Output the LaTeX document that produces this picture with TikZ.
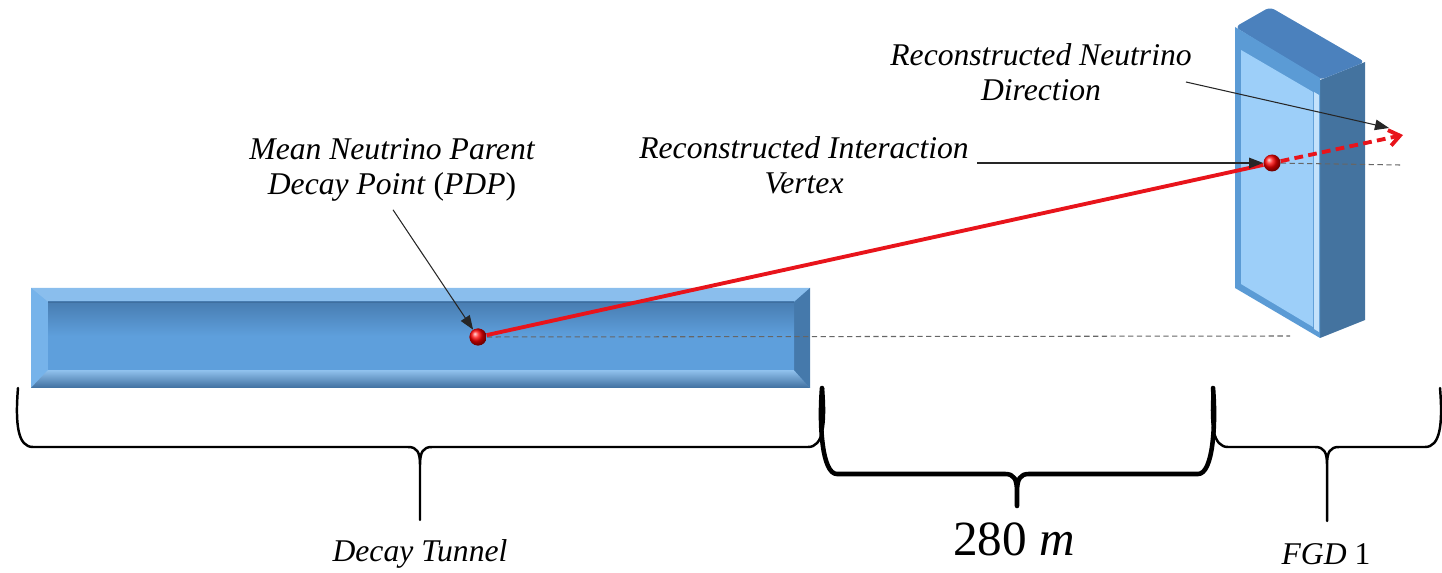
\documentclass[tikz,border=0pt]{standalone}
\usepackage{fontspec}
\setmainfont{Liberation Serif}
\usepackage{tikz}
\usetikzlibrary{positioning,calc,arrows.meta}

\definecolor{tunnelblue}{HTML}{5E9FDC}
\definecolor{bevellight}{HTML}{76B3EA}
\definecolor{beveldark}{HTML}{3F6F9F}
\definecolor{fgdframe}{HTML}{5B9BD5}
\definecolor{fgdpanel}{HTML}{9DCFF9}
\definecolor{fgdtop}{HTML}{4B81BD}
\definecolor{fgdside}{HTML}{44739F}
\definecolor{trackred}{HTML}{E8141B}

\tikzset{labeltext/.style={align=center, inner sep=0pt, font=\fontsize{18}{20}\selectfont\itshape},
  pointer/.style={line width=0.6pt, black!85, -{Triangle[length=8pt,width=6pt]}},
  refline/.style={line width=0.6pt, black!60, dash pattern=on 3pt off 2pt},
  track/.style={line width=2.2pt, trackred},
  ball/.style={circle, minimum size=0.34cm, inner sep=0pt, shading=ball, ball color=red},
  bracket/.style={black, line cap=round, line join=round},}

\begin{document}
\begin{tikzpicture}[x=0.02cm, y=-0.02cm]
\useasboundingbox (0,0) rectangle (1442,573);

% decay tunnel with bevelled edge
\fill[bevellight] (31,288) rectangle (810,388);
\fill[bevellight!85!white] (31,288) -- (810,288) -- (794,302) -- (48,302) -- cycle;
\fill[bevellight] (31,288) -- (48,302) -- (48,370) -- (31,388) -- cycle;
\shade[top color=bevellight!80!white, bottom color=beveldark] (31,388) -- (48,370) -- (794,370) -- (810,388) -- cycle;
\fill[beveldark!80!tunnelblue] (810,288) -- (794,302) -- (794,370) -- (810,388) -- cycle;
\shade[top color=beveldark!70!tunnelblue, bottom color=tunnelblue, middle color=tunnelblue] (48,302) rectangle (794,370);
\draw[beveldark, line width=0.8pt] (48,302.5) -- (794,302.5);

\coordinate (fgdbase) at (1290,336);
\coordinate (vtxref) at (1400,165);
\coordinate (nutip) at (1403,135);
\coordinate (dirtip) at (1389,128);

\node[ball] (pdp) at (478,337) {};
\node[ball] (vtx) at (1272,163) {};

\draw[refline] (pdp) -- (fgdbase);

% FGD module
\fill[fgdside] (1320,80) -- (1365,62) -- (1365,320) -- (1320,338) -- cycle;
\fill[fgdtop, rounded corners=3pt] (1235,27) -- (1270,7) -- (1365,62) -- (1320,80) -- cycle;
\fill[fgdframe] (1235,27) -- (1320,78) -- (1320,338) -- (1235,288) -- cycle;
\fill[fgdpanel] (1241,50) -- (1313,92) -- (1313,327) -- (1241,284) -- cycle;
\fill[fgdpanel!60!white] (1314,92) -- (1319,95) -- (1319,332) -- (1314,329) -- cycle;

\draw[refline] (vtx) -- (vtxref);

% track and direction
\draw[track] (pdp) -- (vtx);
\draw[track, dash pattern=on 5pt off 3pt, -{Straight Barb[length=6pt,width=9pt]}] (vtx) -- (nutip);
\node[ball] at (pdp) {};
\node[ball] at (vtx) {};

% labels
\node[labeltext] (pdplabel) at (392,170) {Mean Neutrino Parent\\Decay Point \textup{(}PDP\textup{)}};
\node[labeltext] (vtxlabel) at (804,165) {Reconstructed Interaction\\Vertex};
\node[labeltext] (dirlabel) at (1041,72) {Reconstructed Neutrino\\Direction};

\draw[pointer] ($(pdplabel.south)+(1,8)$) -- (pdp);
\draw[pointer] ($(vtxlabel.east)+(8,-2)$) -- (vtx);
\draw[pointer] ($(dirlabel.east)+(-6,10)$) -- (dirtip);

% braces below
\foreach \xa/\xm/\xb/\yb/\yt/\lw in {18/420/823/447/520/1.4, 822/1017/1213/474/506/2.6, 1213/1327/1440/447/521/1.4}
  \draw[bracket, line width=\lw pt]
    (\xa,388) .. controls (\xa-3,425) and (\xa,\yb) .. (\xa+15,\yb) -- (\xm-12,\yb)
      .. controls (\xm-3,\yb) and (\xm,\yb+5) .. (\xm,\yb+18) -- (\xm,\yt)
    (\xb,388) .. controls (\xb+3,425) and (\xb,\yb) .. (\xb-15,\yb) -- (\xm+12,\yb)
      .. controls (\xm+3,\yb) and (\xm,\yb+5) .. (\xm,\yb+18);

\node[labeltext] (tunnellabel) at (420,554) {Decay Tunnel};
\node[inner sep=0pt, font=\fontsize{28}{32}\selectfont] (distlabel) at (1014,539) {280 \textit{m}};
\node[labeltext] (fgdlabel) at (1326,554) {FGD \textup{1}};
\end{tikzpicture}
\end{document}
